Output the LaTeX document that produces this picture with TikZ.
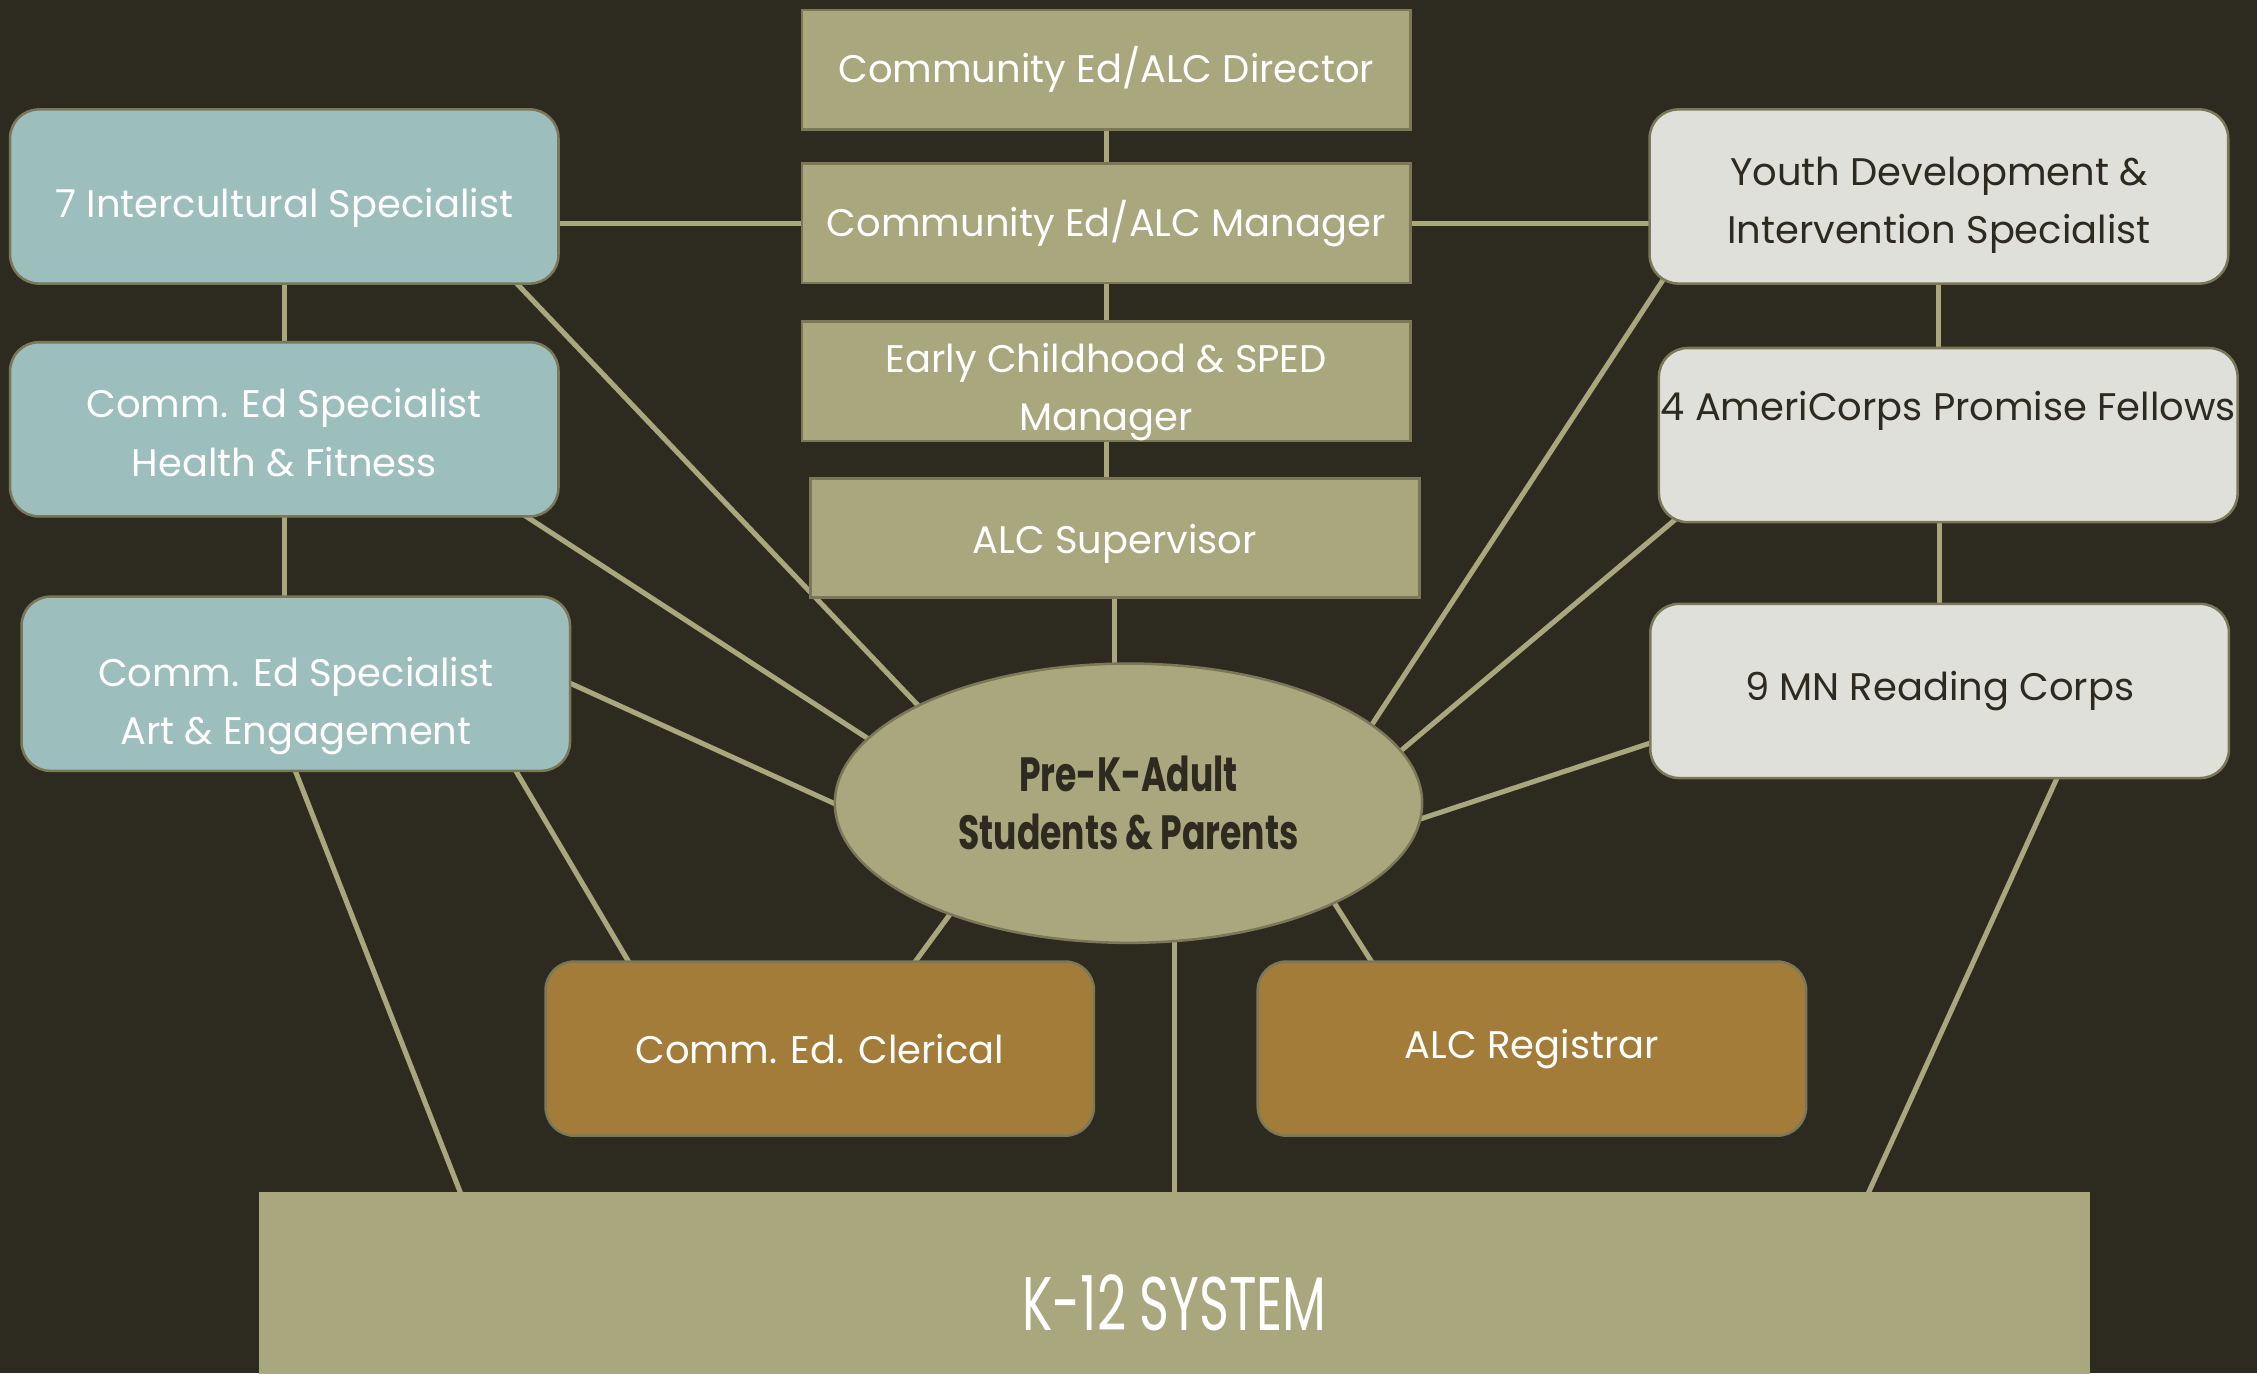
\documentclass[tikz,border=0pt]{standalone}
\usepackage{fontspec}
\setmainfont{Poppins}
\newfontfamily\tallfont[FakeStretch=0.67]{Poppins}
\newfontfamily\squeezefont[FakeStretch=0.72]{Poppins}
\usetikzlibrary{positioning,calc,shapes.geometric,backgrounds}
\definecolor{bgdark}{RGB}{45,42,32}
\definecolor{olive}{RGB}{169,167,125}
\definecolor{oliveline}{RGB}{122,120,88}
\definecolor{tealbox}{RGB}{156,190,189}
\definecolor{greybox}{RGB}{224,224,219}
\definecolor{ochre}{RGB}{164,124,58}

\begin{document}
\begin{tikzpicture}[
  role/.style = {
    draw = oliveline,
    line width = 1pt,
    rectangle,
    fill = olive,
    text = white,
    align = center,
    inner sep = 0pt,
    minimum width = 8.46cm,
    minimum height = 1.66cm,
    font = \fontsize{15.2}{23}\selectfont,
  },
  spec/.style = {
    role,
    rounded corners = 0.4cm,
    fill = tealbox,
    minimum width = 7.62cm,
    minimum height = 2.42cm,
  },
  aide/.style = {
    spec,
    fill = greybox,
    text = bgdark,
    minimum width = 8.04cm,
  },
  office/.style = {
    spec,
    fill = ochre,
  },
  link/.style = {
    draw = olive,
    line width = 2pt,
    shorten <= -4pt,
    shorten >= -4pt,
  },
]

  \useasboundingbox (0,0) rectangle (31.36,-19.08);
  \clip (0,0) rectangle (31.36,-19.08);

  % centre column
  \node[role] (director) at (15.37,-0.97) {Community Ed/ALC Director};
  \node[role] (manager) [below=0.44cm of director] {Community Ed/ALC Manager};
  \node[role,text height=43pt,text depth=4pt] (early) [below=0.5cm of manager] {Early Childhood \& SPED\\Manager};
  \node[role,text height=16pt,text depth=4pt] (superv) [below=0.48cm of early, xshift=0.12cm] {ALC Supervisor};

  \node[ellipse,draw=oliveline,line width=1pt,fill=olive,text=bgdark,
        minimum width=8.16cm,minimum height=3.88cm,align=center,
        font=\squeezefont\bfseries\fontsize{19}{23}\selectfont]
        (pupils) at (15.68,-11.16) {Pre-K-Adult\\Students \& Parents};

  % left column
  \node[spec,text height=21pt,text depth=4pt] (intercult) at (3.95,-2.73) {7 Intercultural Specialist};
  \node[spec,text height=41pt,text depth=4pt] (health) [below=0.78cm of intercult] {Comm. Ed Specialist\\Health \& Fitness};
  \node[spec,text height=52pt,text depth=4pt] (art) [below=1.08cm of health, xshift=0.16cm] {Comm. Ed Specialist\\Art \& Engagement};

  % right column
  \node[aide,text height=41pt,text depth=4pt] (youth) at (26.94,-2.73) {Youth Development \&\\Intervention Specialist};
  \node[aide] (ameri) [below=0.86cm of youth, xshift=0.13cm] {4 AmeriCorps Promise Fellows\\~};
  \node[aide] (reading) [below=1.1cm of ameri, xshift=-0.12cm] {9 MN Reading Corps};

  % bottom row
  \node[office] (clerical) at (11.39,-14.57) {Comm. Ed. Clerical};
  \node[office] (registrar) [right=2.24cm of clerical] {ALC Registrar};

  \node[rectangle,fill=olive,text=white,anchor=north,
        minimum width=25.44cm,minimum height=3.08cm,
        font=\tallfont\fontsize{30}{36}\selectfont]
        (kschool) at (16.32,-16.56) {K-12 SYSTEM};

  \begin{scope}[on background layer]
    \fill[bgdark] (0,0) rectangle (31.36,-19.08);

    \path[link] (director) -- (manager);
    \path[link] (manager) -- (early);
    \path[link] (early.south) -- (early.south |- superv.north);
    \path[link] (superv) -- (superv |- pupils);
    \path[link] (manager.west) -- (manager.west -| intercult.east);
    \path[link] (manager.east) -- (manager.east -| youth.west);

    \path[link] (intercult) -- (health);
    \path[link] (health.south) -- (health.south |- art.north);
    \path[link] (youth.south) -- (youth.south |- ameri.north);
    \path[link] (reading.north) -- (reading.north |- ameri.south);

    \path[link] ([xshift=-0.58cm]intercult.south east) -- (pupils.155);
    \path[link] ([xshift=-0.44cm]health.south east) -- (pupils.166);
    \path[link] (art.east) -- (pupils.180);
    \path[link] ([xshift=-0.76cm]art.south east) -- ([xshift=1.16cm]clerical.north west);
    \path[link] (art.south) -- ([xshift=2.8cm]kschool.north west);
    \path[link] ([xshift=1.34cm]clerical.north) -- (pupils.212);
    \path[link] ([xshift=-2.24cm]registrar.north) -- (pupils.334);
    \path[link] (pupils.center -| kschool.north) -- (kschool.north);

    \path[link] ([xshift=0.16cm]youth.south west) -- (pupils.18);
    \path[link] ([xshift=0.18cm]ameri.south west) -- (pupils.11);
    \path[link] ([yshift=-0.73cm]reading.west) -- (pupils.357);
    \path[link] ([xshift=5.66cm]reading.south west) -- ([xshift=-3.08cm]kschool.north east);
  \end{scope}

\end{tikzpicture}
\end{document}
